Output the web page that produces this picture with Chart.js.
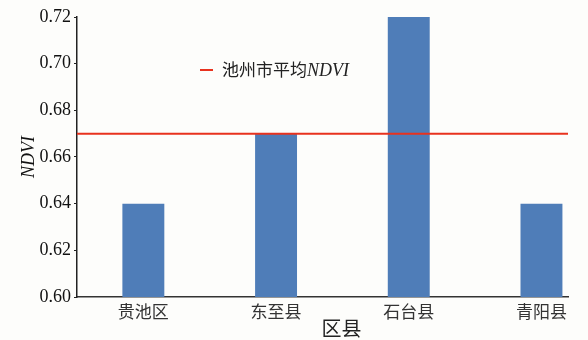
<!DOCTYPE html>
<html><head><meta charset="utf-8">
<script src="https://cdn.jsdelivr.net/npm/chart.js@4/dist/chart.umd.min.js"></script>
<style>
html,body{margin:0;padding:0;background:#fdfdfb;}
#wrap{position:relative;width:588px;height:340px;}
#legend{position:absolute;left:200px;top:58px;font-family:"Noto Sans CJK SC";font-size:17px;color:#222;white-space:nowrap;line-height:22px;}
#legend .dash{display:inline-block;width:13px;height:2px;background:#e8321e;vertical-align:middle;margin-right:9px;position:relative;top:-1px;}
#legend i{font-family:"Liberation Serif";font-size:18px;}
</style></head>
<body><div id="wrap"><canvas id="c" width="588" height="340"></canvas>
<div id="legend"><span class="dash"></span>池州市平均<i>NDVI</i></div></div>
<script>
const categories = ["贵池区","东至县","石台县","青阳县"];
const ndviValues = [0.64, 0.67, 0.72, 0.64];
const cityMean = 0.67;
const yTicks = [0.60, 0.62, 0.64, 0.66, 0.68, 0.70, 0.72];
const xMin = -0.5, xMax = 3.2;

const xTitlePlugin = {
  id: 'xTitle',
  afterDraw(chart) {
    const ctx = chart.ctx, a = chart.chartArea;
    ctx.save();
    ctx.font = '20px "Noto Sans CJK SC"';
    ctx.fillStyle = '#222';
    ctx.textAlign = 'center';
    ctx.textBaseline = 'middle';
    ctx.fillText('区县', (a.left + a.right) / 2 + 19, 328);
    ctx.restore();
  }
};

new Chart(document.getElementById('c'), {
  data: {
    datasets: [
      {
        type: 'bar',
        label: 'NDVI',
        data: categories.map((c, i) => ({x: i, y: ndviValues[i]})),
        backgroundColor: '#4f7db8',
        borderWidth: 0,
        categoryPercentage: 1,
        barPercentage: 0.316,
        order: 2
      },
      {
        type: 'line',
        label: '池州市平均NDVI',
        data: [{x: xMin, y: cityMean}, {x: xMax, y: cityMean}],
        borderColor: '#e8321e',
        borderWidth: 2,
        pointRadius: 0,
        order: 1
      }
    ]
  },
  options: {
    responsive: false,
    animation: false,
    layout: {padding: {left: 0, right: 20, top: 17, bottom: 0}},
    plugins: {legend: {display: false}, tooltip: {enabled: false}},
    scales: {
      x: {
        type: 'linear',
        offset: false,
        min: xMin, max: xMax,
        afterBuildTicks(s) { s.ticks = categories.map((c, i) => ({value: i})); },
        afterFit(s) { s.height = 43; },
        grid: {display: false, offset: false, drawTicks: false},
        border: {display: true, color: '#333', width: 1.5},
        ticks: {
          padding: 4,
          color: '#333',
          font: {family: 'Noto Sans CJK SC', size: 17},
          callback: (v) => categories[v] ?? ''
        }
      },
      y: {
        min: 0.60, max: 0.72,
        afterBuildTicks(s) { s.ticks = yTicks.map(v => ({value: v})); },
        afterFit(s) { s.width = 77; },
        grid: {display: true, drawOnChartArea: false, tickLength: 3, color: '#222'},
        border: {display: true, color: '#222', width: 1.5},
        ticks: {
          padding: 3,
          color: '#111',
          font: {family: 'Liberation Serif', size: 18},
          callback: (v) => Number(v).toFixed(2)
        },
        title: {
          display: true,
          text: 'NDVI',
          color: '#111',
          padding: {top: 18, bottom: 0},
          font: {family: 'Liberation Serif', size: 18, style: 'italic'}
        }
      }
    }
  },
  plugins: [xTitlePlugin]
});
</script></body></html>
